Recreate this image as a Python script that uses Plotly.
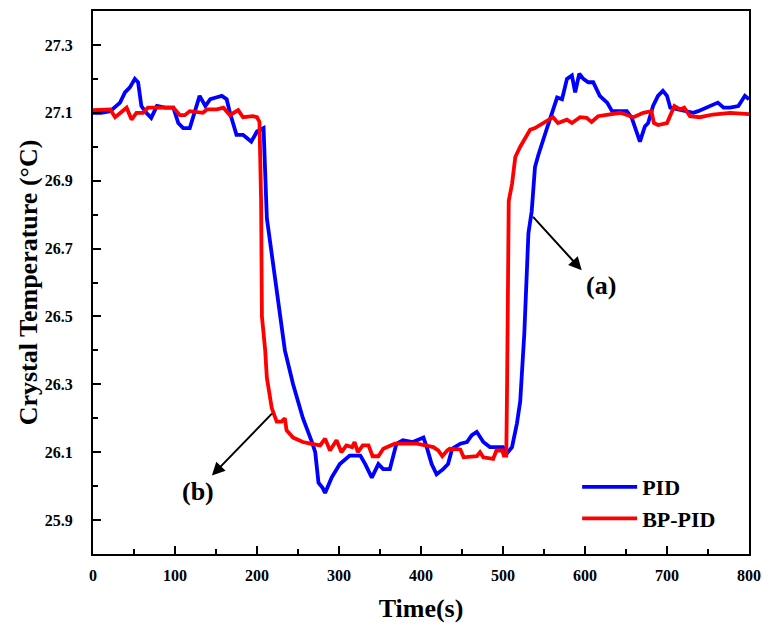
import plotly.graph_objects as go

# PID series
pid_time = [0, 10, 21, 33, 39, 45, 51, 55, 59, 65, 71, 78, 88, 98, 104, 110, 118, 124, 130, 137,
            143, 150, 157, 163, 167, 175, 183, 188, 193, 200, 208, 212, 220, 228, 234, 244, 256,
            267, 271, 275, 280, 283, 291, 301, 313, 326, 332, 340, 348, 354, 362, 370, 378, 390,
            403, 407, 413, 419, 427, 433, 438, 448, 456, 462, 468, 476, 484, 500, 506, 511, 517,
            521, 526, 531, 535, 539, 543, 553, 561, 566, 572, 578, 584, 588, 593, 598, 604, 610,
            618, 627, 633, 651, 657, 663, 667, 673, 677, 683, 689, 695, 700, 704, 712, 720, 732,
            738, 752, 762, 769, 777, 787, 795, 800]
pid_temp = [27.10, 27.10, 27.105, 27.13, 27.16, 27.175, 27.20, 27.19, 27.12, 27.10, 27.085, 27.12,
            27.115, 27.115, 27.07, 27.055, 27.055, 27.10, 27.15, 27.12, 27.14, 27.145, 27.15,
            27.14, 27.10, 27.035, 27.035, 27.025, 27.015, 27.045, 27.055, 26.79, 26.645, 26.50,
            26.40, 26.30, 26.20, 26.13, 26.10, 26.01, 25.995, 25.98, 26.025, 26.065, 26.09, 26.09,
            26.065, 26.025, 26.065, 26.05, 26.05, 26.125, 26.135, 26.13, 26.143, 26.115, 26.065,
            26.035, 26.05, 26.065, 26.11, 26.125, 26.13, 26.15, 26.16, 26.13, 26.115, 26.115,
            26.10, 26.115, 26.185, 26.25, 26.45, 26.745, 26.81, 26.94, 26.975, 27.05, 27.11,
            27.145, 27.14, 27.20, 27.21, 27.16, 27.215, 27.20, 27.19, 27.19, 27.15, 27.13, 27.105,
            27.105, 27.085, 27.04, 27.015, 27.06, 27.07, 27.12, 27.15, 27.165, 27.15, 27.115,
            27.11, 27.105, 27.10, 27.105, 27.12, 27.13, 27.115, 27.115, 27.12, 27.15, 27.14]

# BP-PID series
bp_time = [0, 21, 27, 33, 41, 47, 53, 61, 67, 78, 98, 106, 112, 118, 134, 139, 151, 159, 167, 177,
           183, 195, 200, 203, 205, 206, 208, 210, 212, 218, 224, 230, 234, 236, 244, 256, 265,
           277, 283, 289, 297, 303, 309, 316, 319, 323, 329, 336, 341, 348, 354, 362, 368, 378,
           395, 405, 415, 421, 426, 432, 435, 448, 452, 468, 472, 476, 488, 492, 499, 501, 504,
           505, 507, 511, 515, 521, 529, 533, 539, 549, 561, 567, 578, 584, 594, 602, 608, 616,
           634, 643, 652, 659, 671, 681, 684, 689, 700, 705, 709, 716, 721, 728, 740, 756, 777,
           800]
bp_temp = [27.108, 27.11, 27.087, 27.10, 27.115, 27.08, 27.10, 27.10, 27.115, 27.115, 27.115,
           27.093, 27.093, 27.105, 27.10, 27.11, 27.11, 27.115, 27.093, 27.108, 27.087, 27.09,
           27.087, 27.073, 26.84, 26.50, 26.45, 26.40, 26.32, 26.23, 26.19, 26.19, 26.20, 26.165,
           26.143, 26.13, 26.125, 26.12, 26.14, 26.105, 26.135, 26.10, 26.12, 26.115, 26.13,
           26.10, 26.12, 26.12, 26.088, 26.088, 26.11, 26.12, 26.125, 26.125, 26.125, 26.12,
           26.115, 26.105, 26.088, 26.105, 26.11, 26.108, 26.085, 26.088, 26.10, 26.085, 26.08,
           26.105, 26.105, 26.09, 26.09, 26.30, 26.84, 26.89, 26.97, 27.00, 27.03, 27.05, 27.055,
           27.07, 27.087, 27.07, 27.08, 27.07, 27.087, 27.085, 27.073, 27.09, 27.096, 27.10,
           27.093, 27.087, 27.10, 27.105, 27.07, 27.064, 27.07, 27.10, 27.12, 27.11, 27.115,
           27.09, 27.087, 27.095, 27.10, 27.096]

x_ticks = [0, 100, 200, 300, 400, 500, 600, 700, 800]
y_ticks = [25.9, 26.1, 26.3, 26.5, 26.7, 26.9, 27.1, 27.3]
y_tick_labels = ["25.9", "26.1", "26.3", "26.5", "26.7", "26.9", "27.1", "27.3"]

FONT = "Liberation Serif"

fig = go.Figure()
fig.add_trace(go.Scatter(x=pid_time, y=pid_temp, mode="lines", name="PID",
                         line=dict(color="#0000FF", width=3.8)))
fig.add_trace(go.Scatter(x=bp_time, y=bp_temp, mode="lines", name="BP-PID",
                         line=dict(color="#FF0000", width=3.8)))

axis_common = dict(
    showline=True, linecolor="black", linewidth=2, mirror=True,
    ticks="inside", tickcolor="black", tickwidth=2, ticklen=8,
    showgrid=False, zeroline=False, automargin=False, ticklabeloverflow="allow",
    tickfont=dict(family=FONT, size=16, color="black", weight="bold"),
)

fig.update_xaxes(range=[0, 800], tickvals=x_ticks,
                 minor=dict(ticks="inside", dtick=50, ticklen=5, tickwidth=2, tickcolor="black"),
                 title=dict(text="Time(s)", font=dict(family=FONT, size=26, color="black", weight="bold"),
                            standoff=18),
                 ticklabelstandoff=6,
                 **axis_common)
fig.update_yaxes(range=[25.8, 27.4], tickvals=y_ticks, ticktext=y_tick_labels,
                 minor=dict(ticks="inside", tickvals=[26.0, 26.2, 26.4, 26.6, 26.8, 27.0, 27.2],
                            ticklen=5, tickwidth=2, tickcolor="black"),
                 title=dict(text="Crystal Temperature (°C)",
                            font=dict(family=FONT, size=26, color="black", weight="bold"),
                            standoff=0),
                 ticklabelstandoff=15,
                 **axis_common)

# arrows
fig.add_annotation(x=596, y=26.636, ax=535, ay=26.798, xref="x", yref="y", axref="x", ayref="y",
                   text="", showarrow=True, arrowhead=2, arrowsize=1.3, arrowwidth=2, arrowcolor="black")
fig.add_annotation(x=620, y=26.59, xref="x", yref="y", text="(a)", showarrow=False,
                   font=dict(family=FONT, size=26, color="black", weight="bold"))
fig.add_annotation(x=145, y=26.031, ax=220, ay=26.218, xref="x", yref="y", axref="x", ayref="y",
                   text="", showarrow=True, arrowhead=2, arrowsize=1.3, arrowwidth=2, arrowcolor="black")
fig.add_annotation(x=128, y=25.985, xref="x", yref="y", text="(b)", showarrow=False,
                   font=dict(family=FONT, size=26, color="black", weight="bold"))

fig.update_layout(
    width=766, height=623,
    margin=dict(l=93, r=17, t=11, b=69),
    paper_bgcolor="white", plot_bgcolor="white",
    font=dict(family=FONT, color="black"),
    showlegend=True,
    legend=dict(x=0.738, y=0.162, xanchor="left", yanchor="top", bgcolor="rgba(0,0,0,0)",
                borderwidth=0, itemwidth=55, tracegroupgap=0,
                font=dict(family=FONT, size=22, color="black", weight="bold")),
)

fig.write_html("out.html", config={"displayModeBar": False},
               post_script="document.body.style.margin='0';document.body.style.overflow='hidden';")
